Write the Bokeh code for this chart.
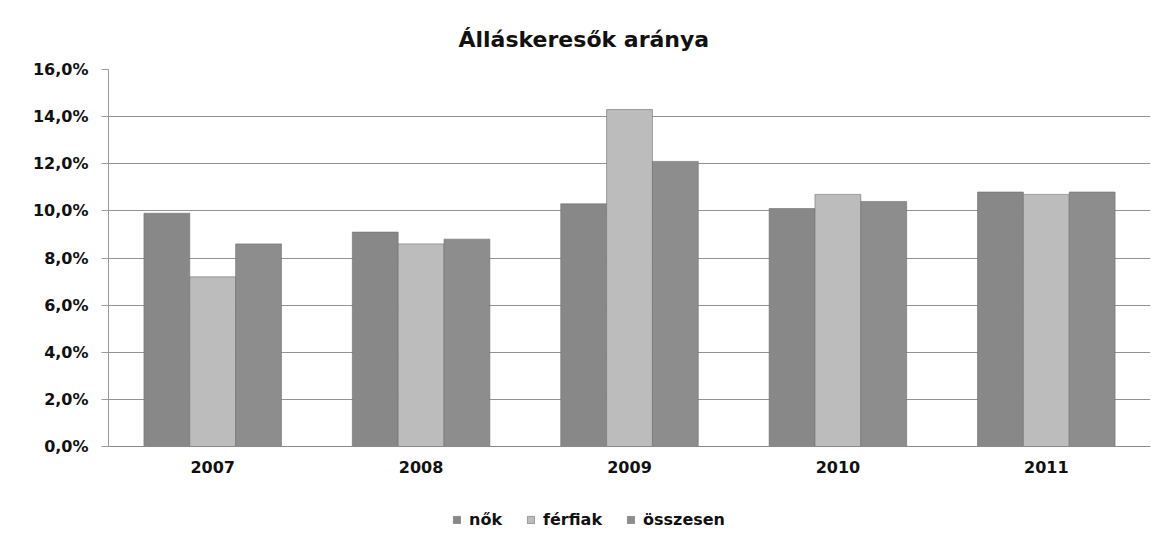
from bokeh.plotting import figure
from bokeh.models import ColumnDataSource, FixedTicker, Legend, LegendItem, Range1d, FactorRange
from bokeh.transform import dodge
from bokeh.embed import file_html
from bokeh.resources import INLINE

years = ["2007", "2008", "2009", "2010", "2011"]
nok = [9.9, 9.1, 10.3, 10.1, 10.8]
ferfiak = [7.2, 8.6, 14.3, 10.7, 10.7]
osszesen = [8.6, 8.8, 12.1, 10.4, 10.8]
series_names = ["nők", "férfiak", "összesen"]
y_ticks = [0, 2, 4, 6, 8, 10, 12, 14, 16]
y_tick_labels = ["0,0%", "2,0%", "4,0%", "6,0%", "8,0%", "10,0%", "12,0%", "14,0%", "16,0%"]

src = ColumnDataSource(dict(year=years, nok=nok, ferfiak=ferfiak, osszesen=osszesen))

FONT = "DejaVu Sans"

p = figure(width=1152, height=535, x_range=FactorRange(*years, range_padding=0),
           y_range=Range1d(-3.69, 16), output_backend="svg", toolbar_location=None,
           min_border_left=108, min_border_right=2, min_border_top=69, min_border_bottom=2)

p.title.text = "Álláskeresők aránya"
p.title.align = "left"
p.title.offset = 350
p.title.text_font = FONT
p.title.text_font_size = "22px"
p.title.text_font_style = "bold"
p.title.text_color = "#111111"
p.title.standoff = 35

cols = ["nok", "ferfiak", "osszesen"]
colors = ["#888888", "#bcbcbc", "#8d8d8d"]
offsets = [-0.22, 0.0, 0.22]
renderers = []
for c, col, off in zip(cols, colors, offsets):
    r = p.vbar(x=dodge("year", off, range=p.x_range), top=c, width=0.22, source=src,
               fill_color=col, line_color="#6e6e6e", line_width=0.6)
    renderers.append(r)

p.outline_line_color = None
p.xgrid.grid_line_color = None
p.ygrid.grid_line_color = "#939393"
p.ygrid.grid_line_width = 1
p.ygrid.ticker = FixedTicker(ticks=y_ticks)

p.yaxis.ticker = FixedTicker(ticks=y_ticks)
p.yaxis.bounds = (0, 16)
p.yaxis.major_label_overrides = {t: l for t, l in zip(y_ticks, y_tick_labels)}
p.yaxis.minor_tick_line_color = None
p.yaxis.major_tick_out = 7
p.yaxis.major_tick_in = 0
p.yaxis.axis_line_color = "#9a9a9a"
p.yaxis.major_tick_line_color = "#9a9a9a"
p.yaxis.major_label_text_font = FONT
p.yaxis.major_label_text_font_size = "16px"
p.yaxis.major_label_text_font_style = "bold"
p.yaxis.major_label_text_color = "#111111"
p.yaxis.major_label_standoff = 13

p.xaxis.fixed_location = 0
p.xaxis.axis_line_color = "#8a8a8a"
p.xaxis.major_tick_line_color = None
p.xaxis.major_label_text_font = FONT
p.xaxis.major_label_text_font_size = "16px"
p.xaxis.major_label_text_font_style = "bold"
p.xaxis.major_label_text_color = "#111111"
p.xaxis.major_label_standoff = 8

legend = Legend(items=[LegendItem(label=n, renderers=[r]) for n, r in zip(series_names, renderers)],
                orientation="horizontal", location=(344, 4),
                label_text_font=FONT, label_text_font_size="16px", label_text_font_style="bold",
                label_text_color="#111111", glyph_width=9, glyph_height=9,
                spacing=24, label_standoff=8, border_line_color=None,
                background_fill_alpha=0, margin=0, padding=0)
p.add_layout(legend, "center")

open("out.html", "w").write(file_html(p, INLINE))
